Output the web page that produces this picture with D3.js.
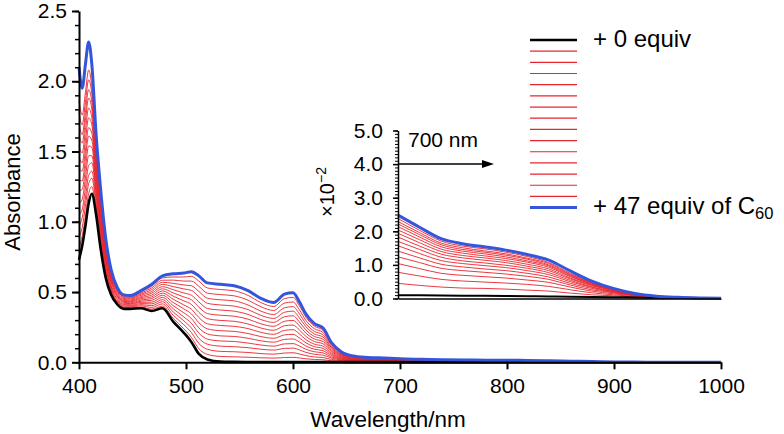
<!DOCTYPE html>
<html><head><meta charset="utf-8">
<script src="https://cdn.jsdelivr.net/npm/d3@7"></script>
<style>
body{margin:0;background:#fff}
svg{display:block}
text{font-family:"Liberation Sans",Arial,Helvetica,sans-serif;fill:#000}
</style>
</head><body>
<svg id="c" width="784" height="434"></svg>
<script>
// ---------- DATA ----------
const wlMain = [400,403,406,409,412,416,420,425,430,436,442,448,458,468,478,488,498,505,512,520,532,545,558,570,582,592,600,606,612,620,628,636,645,656,670,685];
const blackMain = [0.73,0.83,0.97,1.13,1.20,1.05,0.82,0.60,0.48,0.41,0.38,0.38,0.385,0.365,0.385,0.29,0.21,0.145,0.06,0.02,0.005,0.003,0.002,0.002,0.002,0.002,0.002,0.002,0.002,0.002,0.002,0.002,0.002,0.001,0.001,0.001];
const blueMain = [2.10,1.95,2.12,2.28,2.12,1.62,1.25,0.88,0.66,0.53,0.48,0.475,0.51,0.555,0.615,0.63,0.635,0.645,0.615,0.565,0.555,0.545,0.51,0.455,0.425,0.485,0.495,0.43,0.345,0.275,0.245,0.14,0.075,0.045,0.035,0.03];
// absorbance of the 14 intermediate additions, one row per wavelength in wlMain
const redMainRows = [
[0.81,0.89,0.97,1.05,1.13,1.22,1.30,1.38,1.46,1.54,1.62,1.70,1.78,1.86],
[0.90,0.96,1.03,1.09,1.16,1.23,1.29,1.36,1.42,1.49,1.56,1.62,1.69,1.76],
[1.04,1.11,1.17,1.24,1.31,1.38,1.45,1.51,1.58,1.65,1.72,1.78,1.85,1.92],
[1.20,1.27,1.33,1.40,1.47,1.54,1.61,1.67,1.74,1.81,1.88,1.94,2.01,2.08],
[1.25,1.31,1.36,1.42,1.47,1.53,1.58,1.63,1.69,1.74,1.80,1.85,1.91,1.96],
[1.08,1.12,1.15,1.19,1.22,1.25,1.29,1.32,1.35,1.39,1.42,1.45,1.49,1.52],
[0.85,0.87,0.90,0.92,0.95,0.97,1.00,1.02,1.05,1.07,1.10,1.12,1.15,1.18],
[0.62,0.63,0.65,0.67,0.68,0.70,0.72,0.73,0.75,0.77,0.78,0.80,0.81,0.83],
[0.49,0.50,0.51,0.52,0.53,0.54,0.55,0.57,0.58,0.59,0.60,0.61,0.62,0.63],
[0.42,0.43,0.43,0.44,0.45,0.46,0.47,0.47,0.48,0.49,0.50,0.51,0.51,0.52],
[0.387,0.393,0.400,0.407,0.413,0.420,0.427,0.433,0.440,0.447,0.453,0.460,0.467,0.473],
[0.386,0.393,0.399,0.405,0.412,0.418,0.424,0.431,0.437,0.443,0.450,0.456,0.462,0.469],
[0.393,0.402,0.410,0.418,0.427,0.435,0.443,0.452,0.460,0.468,0.477,0.485,0.493,0.502],
[0.378,0.390,0.403,0.416,0.428,0.441,0.454,0.466,0.479,0.492,0.504,0.517,0.530,0.542],
[0.400,0.416,0.431,0.446,0.462,0.477,0.492,0.508,0.523,0.538,0.554,0.569,0.584,0.600],
[0.313,0.335,0.358,0.381,0.403,0.426,0.449,0.471,0.494,0.517,0.539,0.562,0.585,0.607],
[0.238,0.267,0.295,0.323,0.352,0.380,0.408,0.437,0.465,0.493,0.522,0.550,0.578,0.607],
[0.178,0.212,0.245,0.278,0.312,0.345,0.378,0.412,0.445,0.478,0.512,0.545,0.578,0.612],
[0.097,0.134,0.171,0.208,0.245,0.282,0.319,0.356,0.393,0.430,0.467,0.504,0.541,0.578],
[0.056,0.093,0.129,0.165,0.202,0.238,0.274,0.311,0.347,0.383,0.420,0.456,0.492,0.529],
[0.042,0.078,0.115,0.152,0.188,0.225,0.262,0.298,0.335,0.372,0.408,0.445,0.482,0.518],
[0.039,0.075,0.111,0.148,0.184,0.220,0.256,0.292,0.328,0.364,0.400,0.437,0.473,0.509],
[0.036,0.070,0.104,0.137,0.171,0.205,0.240,0.273,0.307,0.341,0.375,0.408,0.442,0.476],
[0.032,0.062,0.093,0.123,0.153,0.183,0.213,0.244,0.274,0.304,0.334,0.364,0.395,0.425],
[0.030,0.058,0.087,0.115,0.143,0.171,0.199,0.228,0.256,0.284,0.312,0.340,0.369,0.397],
[0.034,0.066,0.099,0.131,0.163,0.195,0.227,0.260,0.292,0.324,0.356,0.388,0.421,0.453],
[0.035,0.068,0.101,0.133,0.166,0.199,0.232,0.265,0.298,0.331,0.364,0.396,0.429,0.462],
[0.031,0.059,0.088,0.116,0.145,0.173,0.202,0.230,0.259,0.287,0.316,0.344,0.373,0.401],
[0.025,0.048,0.071,0.093,0.116,0.139,0.162,0.185,0.208,0.231,0.254,0.276,0.299,0.322],
[0.020,0.038,0.057,0.075,0.093,0.111,0.129,0.148,0.166,0.184,0.202,0.220,0.239,0.257],
[0.018,0.034,0.051,0.067,0.083,0.099,0.115,0.132,0.148,0.164,0.180,0.196,0.213,0.229],
[0.011,0.020,0.030,0.039,0.048,0.057,0.066,0.076,0.085,0.094,0.103,0.112,0.122,0.131],
[0.007,0.012,0.017,0.021,0.026,0.031,0.036,0.041,0.046,0.051,0.056,0.060,0.065,0.070],
[0.004,0.007,0.010,0.013,0.016,0.019,0.022,0.024,0.027,0.030,0.033,0.036,0.039,0.042],
[0.003,0.006,0.008,0.010,0.012,0.015,0.017,0.019,0.021,0.024,0.026,0.028,0.030,0.033],
[0.003,0.005,0.007,0.009,0.011,0.013,0.015,0.016,0.018,0.020,0.022,0.024,0.026,0.028]
];
// inset (×10^-2), 700–1000 nm
const wlInset = [700,720,740,760,780,800,820,840,860,880,900,920,940,960,980,1000];
const blackInset = [0.10,0.095,0.09,0.085,0.08,0.075,0.07,0.06,0.05,0.045,0.04,0.03,0.02,0.015,0.01,0.005];
const blueInset = [2.48,2.12,1.78,1.63,1.54,1.44,1.31,1.14,0.82,0.52,0.30,0.15,0.07,0.035,0.015,0.005];
const redInset = [
[0.45,0.39,0.34,0.31,0.30,0.28,0.25,0.22,0.16,0.11,0.08,0.05,0.03,0.02,0.01,0],
[0.78,0.67,0.57,0.52,0.49,0.46,0.42,0.36,0.26,0.17,0.11,0.06,0.03,0.02,0.01,0],
[1.04,0.89,0.75,0.69,0.65,0.61,0.55,0.48,0.34,0.22,0.14,0.08,0.04,0.02,0.01,0],
[1.24,1.07,0.90,0.83,0.78,0.73,0.66,0.57,0.40,0.26,0.17,0.09,0.04,0.02,0.01,0],
[1.41,1.21,1.02,0.94,0.88,0.83,0.75,0.64,0.45,0.30,0.18,0.10,0.05,0.03,0.01,0],
[1.57,1.34,1.13,1.04,0.98,0.92,0.83,0.71,0.50,0.33,0.20,0.10,0.05,0.03,0.01,0],
[1.70,1.46,1.23,1.12,1.06,0.99,0.90,0.77,0.54,0.35,0.21,0.11,0.05,0.03,0.01,0],
[1.83,1.56,1.32,1.21,1.14,1.07,0.96,0.83,0.58,0.38,0.23,0.12,0.06,0.03,0.01,0],
[1.94,1.66,1.40,1.28,1.21,1.13,1.02,0.88,0.61,0.40,0.24,0.12,0.06,0.03,0.01,0],
[2.04,1.75,1.47,1.35,1.27,1.19,1.08,0.93,0.65,0.42,0.25,0.13,0.06,0.03,0.01,0],
[2.14,1.83,1.54,1.41,1.33,1.24,1.12,0.97,0.67,0.43,0.26,0.13,0.06,0.03,0.01,0],
[2.22,1.90,1.60,1.46,1.38,1.29,1.17,1.00,0.70,0.45,0.27,0.14,0.06,0.03,0.01,0],
[2.29,1.96,1.65,1.51,1.42,1.33,1.20,1.04,0.72,0.46,0.28,0.14,0.07,0.03,0.01,0],
[2.38,2.03,1.71,1.56,1.48,1.38,1.25,1.07,0.75,0.48,0.29,0.14,0.07,0.03,0.01,0]
];
const xTicks = [400,500,600,700,800,900,1000];
const yTicks = [0,0.5,1.0,1.5,2.0,2.5];
const yMinorTicks = d3.range(0, 2.501, 0.1);
const insetYTicks = [0,1,2,3,4,5];
const insetYMinor = d3.range(0, 5.001, 0.1);
const legendCount = 16;

// ---------- STYLES ----------
const RED = "#e8242c", BLUE = "#3556dc", BLACK = "#000";

const svg = d3.select("#c");
const x = d3.scaleLinear().domain([400,1000]).range([79,721]);
const y = d3.scaleLinear().domain([0,2.5]).range([362.3,11]);
const xi = d3.scaleLinear().domain([700,1000]).range([398,721]);
const yi = d3.scaleLinear().domain([0,5]).range([298.5,130.5]);

const lineMain = d3.line().x(d=>x(d[0])).y(d=>y(d[1])).curve(d3.curveMonotoneX);
const lineInset = d3.line().x(d=>xi(d[0])).y(d=>yi(d[1])).curve(d3.curveMonotoneX);

const redMain = d3.transpose(redMainRows);
function mainSeries(vals, tail){
  return wlMain.map((w,i)=>[w, vals[i]]).concat(wlInset.map((w,i)=>[w, tail[i]/100]));
}
function insetSeries(vals){ return wlInset.map((w,i)=>[w, vals[i]]); }

// main curves
const gMain = svg.append("g");
redMain.forEach((s,k)=>{
  gMain.append("path").attr("d", lineMain(mainSeries(s, redInset[k])))
    .attr("fill","none").attr("stroke",RED).attr("stroke-width",1).attr("stroke-opacity",0.9);
});
gMain.append("path").attr("d", lineMain(mainSeries(blackMain, blackInset)))
  .attr("fill","none").attr("stroke",BLACK).attr("stroke-width",2.6);
gMain.append("path").attr("d", lineMain(mainSeries(blueMain, blueInset)))
  .attr("fill","none").attr("stroke",BLUE).attr("stroke-width",3);

// inset curves
const gIn = svg.append("g");
redInset.forEach(s=>{
  gIn.append("path").attr("d", lineInset(insetSeries(s)))
    .attr("fill","none").attr("stroke",RED).attr("stroke-width",1).attr("stroke-opacity",0.9);
});
gIn.append("path").attr("d", lineInset(insetSeries(blackInset)))
  .attr("fill","none").attr("stroke",BLACK).attr("stroke-width",2);
gIn.append("path").attr("d", lineInset(insetSeries(blueInset)))
  .attr("fill","none").attr("stroke",BLUE).attr("stroke-width",3);

// ---------- AXES ----------
function styleAxis(g, fs, w){
  g.select(".domain").attr("stroke","#000").attr("stroke-width",w);
  g.selectAll(".tick line").attr("stroke","#000").attr("stroke-width",w);
  g.selectAll("text").attr("font-size",fs).attr("font-family","Liberation Sans, Arial, sans-serif").attr("fill","#000");
}
const gx = svg.append("g").attr("transform","translate(0,362.3)")
  .call(d3.axisBottom(x).tickValues(xTicks).tickSize(7).tickPadding(9).tickSizeOuter(0).tickFormat(d3.format("d")));
styleAxis(gx, 21, 2);
const gyMinor = svg.append("g").attr("transform","translate(79,0)")
  .call(d3.axisLeft(y).tickValues(yMinorTicks).tickSize(4).tickFormat("").tickSizeOuter(0));
styleAxis(gyMinor, 21, 1.5);
gyMinor.select(".domain").remove();
const gy = svg.append("g").attr("transform","translate(79,0)")
  .call(d3.axisLeft(y).tickValues(yTicks).tickSize(7).tickPadding(5).tickSizeOuter(0).tickFormat(d3.format(".1f")));
styleAxis(gy, 21, 2);

// inset axes
const gxi = svg.append("g").attr("transform","translate(0,298.5)")
  .call(d3.axisBottom(xi).tickValues([]).tickSizeOuter(0));
styleAxis(gxi, 21, 1.5);
const gyiMinor = svg.append("g").attr("transform","translate(398,0)")
  .call(d3.axisLeft(yi).tickValues(insetYMinor).tickSize(3).tickFormat("").tickSizeOuter(0));
styleAxis(gyiMinor, 21, 1);
gyiMinor.select(".domain").remove();
const gyi = svg.append("g").attr("transform","translate(398,0)")
  .call(d3.axisLeft(yi).tickValues(insetYTicks).tickSize(5).tickPadding(10).tickSizeOuter(0).tickFormat(d3.format(".1f")));
styleAxis(gyi, 21, 1.5);

// axis titles
svg.append("text").attr("x",388).attr("y",427).attr("text-anchor","middle")
  .attr("font-size",22.5).text("Wavelength/nm");
svg.append("text").attr("transform","translate(20,192) rotate(-90)").attr("text-anchor","middle")
  .attr("font-size",22).text("Absorbance");
const tPow = svg.append("text").attr("transform","translate(334,192) rotate(-90)").attr("text-anchor","middle")
  .attr("font-size",20);
tPow.append("tspan").text("×10");
tPow.append("tspan").attr("dy",-8).attr("font-size",14).text("−2");

// 700 nm arrow
svg.append("text").attr("x",408).attr("y",146.5).attr("font-size",21).text("700 nm");
svg.append("line").attr("x1",398).attr("x2",484).attr("y1",yi(4)).attr("y2",yi(4))
  .attr("stroke","#000").attr("stroke-width",1.5);
svg.append("path").attr("d",`M${494},${yi(4)} L${482},${yi(4)-4} L${482},${yi(4)+4} Z`).attr("fill","#000");

// ---------- LEGEND ----------
const legY = d3.scaleLinear().domain([0,legendCount-1]).range([40,207.6]);
d3.range(legendCount).forEach(i=>{
  const c = i===0?BLACK:(i===legendCount-1?BLUE:RED);
  const w = i===0?2.6:(i===legendCount-1?3:1.2);
  svg.append("line").attr("x1",530).attr("x2",577).attr("y1",legY(i)).attr("y2",legY(i))
    .attr("stroke",c).attr("stroke-width",w);
});
svg.append("text").attr("x",593).attr("y",46.5).attr("font-size",24).text("+ 0 equiv");
const t47 = svg.append("text").attr("x",593).attr("y",213.5).attr("font-size",24);
t47.append("tspan").text("+ 47 equiv of C");
t47.append("tspan").attr("dy",5).attr("font-size",16.5).text("60");
</script>
</body></html>
